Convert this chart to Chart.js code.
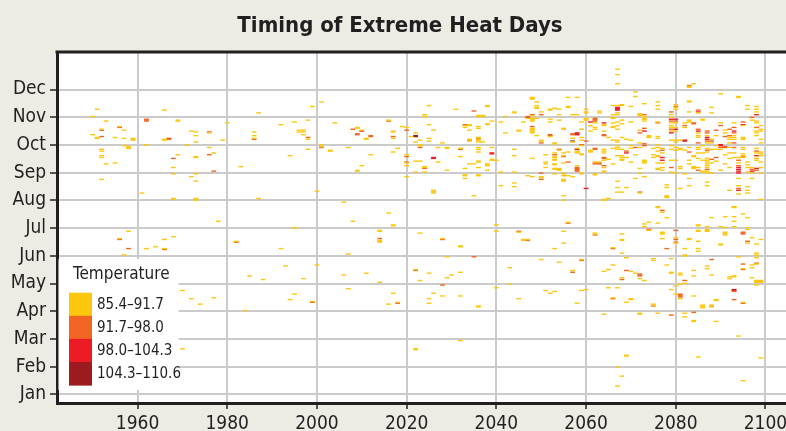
<!DOCTYPE html>
<html>
<head>
<meta charset="utf-8">
<title>Timing of Extreme Heat Days</title>
<script src="https://cdn.jsdelivr.net/npm/chart.js@4.4.0/dist/chart.umd.min.js"></script>
<style>
  html, body { margin: 0; padding: 0; background: #ecebe4; overflow: hidden; }
  #wrap { width: 808px; height: 431px; }
</style>
</head>
<body>
<div id="wrap"><canvas id="heat" width="808" height="431"></canvas></div>
<script>
// [year, day of year] for each extreme heat day, split by temperature band
const band85 = [
  [1951,314],[1950,306],[1953,301],[1952,292],[1950,286],[1951,282],[1951,283],[1956,295],[1957,291],[1955,283],
  [1957,282],[1959,280],[1959,281],[1959,282],[1957,274],[1958,271],[1958,272],[1958,273],[1952,270],[1952,268],
  [1952,263],[1952,261],[1953,254],[1955,255],[1952,237],[1966,313],[1969,301],[1969,302],[1972,290],[1973,289],
  [1973,285],[1973,278],[1976,288],[1979,280],[1980,299],[1986,289],[1986,285],[1986,282],[1987,310],[1966,280],
  [1966,281],[1962,275],[1971,275],[1976,272],[1969,264],[1973,261],[1973,262],[1977,266],[1968,250],[1968,243],
  [1972,240],[1973,243],[1973,235],[1983,251],[1961,222],[1968,215],[1968,216],[1973,214],[1973,215],[1973,216],
  [1987,216],
  [1992,297],[1995,300],[1996,291],[1996,289],[1997,291],[1997,289],[1997,286],[1998,302],[1998,281],[1998,270],
  [1999,317],[2001,322],[2001,275],[2001,273],[2003,268],[2003,269],[2004,299],[2007,272],[2009,293],[2009,294],
  [2010,291],[2011,281],[2011,282],[2009,246],[2009,247],[2010,252],[2012,264],[1994,263],[2000,224],[2006,212],
  [2016,302],[2017,289],[2017,290],[2017,282],[2019,295],[2020,294],[2018,271],[2017,267],[2021,284],[2022,288],
  [2023,280],[2022,278],[2023,275],[2023,274],[2024,308],[2024,306],[2025,318],[2025,297],[2026,291],[2025,282],
  [2025,279],[2028,277],[2027,272],[2029,271],[2029,272],[2020,264],[2020,255],[2020,252],[2020,240],[2022,257],
  [2023,257],[2024,250],[2024,251],[2027,256],[2029,247],[2022,245],[2024,245],[2026,222],[2026,223],[2026,224],
  [2026,225],
  [2031,314],[2033,296],[2034,296],[2034,297],[2033,294],[2034,291],[2036,306],[2036,307],[2037,306],[2037,307],
  [2038,317],[2038,318],[2039,301],[2036,295],[2036,293],[2038,297],[2038,298],[2041,300],[2042,306],[2044,310],
  [2044,311],[2045,290],[2045,291],[2042,288],[2046,300],[2047,304],[2048,325],[2048,326],[2048,327],[2049,322],
  [2049,318],[2049,315],[2049,316],[2048,307],[2048,301],[2048,302],[2048,303],[2048,304],[2050,311],[2049,304],
  [2048,288],[2048,289],[2048,290],[2048,291],[2048,292],[2048,293],[2052,313],[2052,314],[2053,315],[2054,314],
  [2054,308],[2052,303],[2052,300],[2054,302],[2055,292],[2055,293],[2056,316],[2056,317],[2056,327],[2058,327],
  [2057,308],[2058,308],[2060,314],[2060,311],[2060,310],[2060,302],[2060,303],[2060,304],[2059,300],[2059,292],
  [2061,296],[2061,290],[2062,299],[2062,294],[2062,292],[2063,312],[2063,310],[2064,297],[2064,296],[2064,290],
  [2065,283],[2066,318],[2066,308],[2066,305],[2066,299],[2066,294],[2066,295],[2067,358],[2067,352],[2067,342],
  [2067,318],[2067,310],[2067,308],[2067,300],[2067,296],[2067,292],
  [2034,281],[2034,279],[2036,283],[2036,281],[2036,280],[2032,271],[2036,278],[2037,278],[2036,272],[2036,270],
  [2036,267],[2039,272],[2032,262],[2039,258],[2039,259],[2040,258],[2036,256],[2036,257],[2038,252],[2038,253],
  [2038,254],[2034,254],[2035,254],[2036,250],[2038,247],[2033,249],[2033,241],[2033,242],[2033,238],[2036,241],
  [2036,242],[2041,245],[2041,230],[2035,219],[2044,245],[2044,233],[2044,229],[2044,270],[2044,263],[2047,241],
  [2048,260],[2048,240],[2050,279],[2050,280],[2049,285],[2050,239],[2050,240],[2051,264],[2051,256],[2051,254],
  [2051,250],[2052,284],[2053,276],[2053,277],[2053,266],[2053,262],[2053,261],[2053,258],[2053,259],[2053,253],
  [2053,254],[2053,248],[2053,249],[2053,243],[2054,247],[2054,248],[2054,249],[2054,269],[2055,266],[2055,263],
  [2055,255],[2055,243],[2055,244],[2055,241],[2055,235],[2055,236],[2055,237],[2056,267],[2057,282],[2057,278],
  [2056,241],[2057,240],[2058,271],[2058,266],[2058,267],[2058,268],[2058,252],[2059,274],[2059,264],[2059,265],
  [2059,243],[2059,244],[2059,283],[2059,280],[2061,267],[2061,268],[2061,269],[2064,258],[2064,250],[2064,246],
  [2064,245],[2062,242],[2062,243],[2064,270],[2064,268],[2064,266],[2065,259],[2066,254],[2067,270],[2067,263],
  [2067,280],[2067,278],[2067,274],[2067,272],[2067,235],[2067,228],[2067,223],[2055,219],[2055,214],[2064,214],
  [2064,215],[2065,216],[2062,256],[2063,256],
  [2083,339],[2083,338],[2084,342],[2071,333],[2071,328],[2090,331],[2094,327],[2094,328],[2083,322],[2083,323],
  [2068,318],[2068,319],[2073,320],[2076,322],[2076,318],[2076,314],[2070,317],[2080,319],[2080,316],[2080,314],
  [2085,310],[2088,316],[2088,310],[2096,318],[2096,314],[2098,317],[2098,314],[2098,311],[2072,307],[2072,308],
  [2072,309],[2073,306],[2073,304],[2073,303],[2073,301],[2070,300],[2068,302],[2068,298],[2066,304],[2076,300],
  [2079,308],[2079,305],[2079,299],[2079,296],[2079,294],[2079,290],[2080,299],[2080,294],[2080,290],[2082,299],
  [2082,294],[2083,311],[2083,302],[2083,301],[2083,300],[2085,288],[2085,285],[2086,302],[2086,303],[2087,285],
  [2087,277],[2088,281],[2088,277],[2089,285],[2090,299],[2091,291],[2091,288],[2092,283],[2092,281],[2093,299],
  [2093,285],[2093,283],[2093,281],[2095,296],[2095,283],[2095,282],[2095,281],[2097,302],[2098,301],[2098,299],
  [2098,290],[2098,288],[2098,285],[2099,296],[2099,292],[2099,290],[2099,281],[2099,277],
  [2066,280],[2066,271],[2068,283],[2068,270],[2068,263],[2068,261],[2068,259],[2068,258],[2069,281],[2069,261],
  [2070,280],[2070,274],[2070,271],[2070,256],[2071,264],[2071,238],[2072,291],[2072,277],[2072,272],[2072,249],
  [2072,244],[2073,255],[2073,256],[2073,257],[2073,258],[2073,240],[2074,283],[2074,284],[2074,285],[2075,271],
  [2075,264],[2075,261],[2076,284],[2076,282],[2076,275],[2076,272],[2076,268],[2076,262],[2076,263],[2076,255],
  [2076,248],[2076,249],[2077,271],[2077,266],[2077,255],[2077,250],[2077,247],[2078,231],[2078,228],[2078,217],
  [2078,218],[2078,219],[2079,280],[2079,274],[2079,270],[2079,258],[2079,245],[2080,280],[2080,278],[2080,272],
  [2080,269],[2080,258],[2080,244],[2081,280],[2081,271],[2081,270],[2081,251],[2081,249],[2081,227],[2082,269],
  [2082,243],[2083,272],[2083,258],[2083,254],[2083,238],[2083,230],[2084,262],[2084,263],[2084,249],[2084,250],
  [2084,251],[2085,283],[2085,272],[2085,270],[2085,266],[2085,260],[2085,250],[2086,274],[2086,266],[2086,258],
  [2086,245],[2086,246],[2087,271],[2087,267],[2087,260],[2087,258],[2087,256],[2087,254],[2087,252],[2087,250],
  [2087,246],[2087,244],[2087,234],[2087,230],[2088,270],[2088,255],[2088,244],[2089,274],[2089,270],[2089,257],
  [2090,270],[2090,247],[2091,264],[2091,254],[2092,277],[2092,272],[2092,266],[2092,260],[2092,250],[2092,225],
  [2093,266],[2093,261],[2094,261],[2094,255],[2094,238],[2094,230],[2094,221],[2095,272],[2095,270],[2095,265],
  [2095,263],[2095,261],[2096,256],[2096,253],[2096,250],[2096,245],[2096,229],[2096,225],[2096,222],[2097,250],
  [2097,244],[2097,238],[2098,271],[2098,266],[2098,260],[2098,258],[2099,267],[2099,265],[2099,263],[2099,256],
  [2099,250],[2099,244],[2099,215],[2076,207],[2093,207],[2072,222],[2068,223],[2069,228],
  [1978,191],[1958,180],[1956,172],[1957,154],[1962,161],[1964,163],[1966,171],[1966,161],[1968,174],[1982,169],
  [1992,161],[1995,184],[1993,142],[1985,131],[1988,127],[1997,128],[1995,111],[1994,105],[1984,93],[1970,115],
  [1972,106],[1974,100],[1977,107],[1970,51],
  [2016,200],[2008,191],[2017,186],[2017,187],[2014,180],[2014,181],[2014,170],[2014,169],[2014,168],[2023,178],
  [2028,172],[2032,163],[2032,164],[2040,187],[2040,180],[2045,179],[2046,171],[2046,170],[2047,171],[2007,155],
  [2029,152],[2050,149],[2000,143],[2006,132],[2011,134],[2014,124],[2022,138],[2025,134],[2023,126],[2029,129],
  [2030,132],[2032,135],[2043,140],[2040,118],[2043,122],[2051,115],[2052,112],[2007,117],[2017,112],[2026,112],
  [2028,109],[2032,109],[2025,106],[2025,101],[1999,103],[2016,100],[2018,102],[2036,97],[2036,98],[2045,106],
  [2032,60],[2022,50],[2022,51],
  [2056,190],[2055,180],[2053,161],[2055,167],[2062,178],[2062,177],[2068,177],[2068,170],[2068,171],[2066,162],
  [2068,156],[2069,151],[2073,188],[2073,185],[2074,190],[2074,181],[2076,189],[2077,201],[2076,206],[2078,195],
  [2077,177],[2077,178],[2077,179],[2077,172],[2080,173],[2080,167],[2082,161],[2082,153],[2082,154],[2083,171],
  [2083,172],[2085,186],[2085,187],[2085,180],[2085,181],[2085,169],[2085,161],[2085,158],[2087,185],[2087,182],
  [2087,181],[2087,180],[2088,195],[2090,185],[2090,166],[2090,165],[2091,176],[2091,177],[2091,178],[2091,179],
  [2091,196],[2091,184],[2093,206],[2093,207],[2093,196],[2093,191],[2093,185],[2095,199],[2096,195],[2096,182],
  [2096,184],[2096,167],[2097,173],[2099,171],[2098,166],[2054,146],[2059,149],[2057,137],[2064,136],[2065,138],
  [2066,143],[2068,129],[2070,136],[2071,134],[2072,128],[2073,126],[2075,150],[2075,148],[2078,143],[2079,150],
  [2079,134],[2079,135],[2081,134],[2081,132],[2082,123],[2081,122],[2084,137],[2084,131],[2087,142],[2087,139],
  [2088,132],[2092,130],[2092,128],[2093,130],[2093,131],[2094,152],[2095,139],[2097,143],[2097,140],[2097,129],
  [2098,156],[2098,154],[2098,151],[2098,144],[2098,126],[2098,125],[2098,124],[2099,126],[2099,125],[2099,124],
  [2098,121],[2053,114],[2058,101],[2059,115],[2060,116],[2064,89],[2065,118],[2067,118],[2066,107],[2069,102],
  [2070,105],[2070,106],[2072,89],[2072,90],[2075,100],[2075,99],[2076,90],[2079,116],[2080,120],[2080,111],
  [2081,106],[2082,90],[2082,86],[2084,109],[2084,81],[2084,82],[2086,96],[2086,97],[2086,98],[2086,99],
  [2088,99],[2088,97],[2089,104],[2089,105],[2089,81],[2095,102],[2094,65],[2085,42],[2099,41],[2069,43],
  [2069,44],[2067,31],[2068,21],[2067,10],[2095,16]
];
const band92 = [
  [1952,291],[1956,294],[1952,284],[1962,301],[1962,302],[1962,303],[1976,289],[1986,281],[1967,281],[1967,282],
  [1968,260],[1976,264],[1977,246],
  [1998,283],[2001,272],[2008,292],[2009,287],[2009,286],[2012,284],[2012,285],[2016,301],[2017,284],[2020,291],
  [2023,272],[2020,262],[2020,256],[2024,249],
  [2035,312],[2033,297],[2047,306],[2048,308],[2050,308],[2048,295],[2057,287],[2057,286],[2062,301],[2062,302],
  [2062,303],[2062,304],[2064,285],[2064,286],
  [2034,280],[2036,282],[2032,270],[2050,277],[2050,244],[2050,237],[2052,285],[2052,286],[2053,264],[2054,270],
  [2055,262],[2056,256],[2058,246],[2058,247],[2058,248],[2058,249],[2058,250],[2059,275],[2060,279],[2062,270],
  [2062,271],[2062,254],[2062,255],[2063,254],[2063,255],[2064,261],[2064,260],[2064,252],
  [2083,340],[2080,317],[2085,313],[2073,308],[2076,299],[2079,311],[2079,301],[2079,292],[2080,301],[2082,296],
  [2084,298],[2084,299],[2085,292],[2087,290],[2087,288],[2087,279],[2088,279],[2089,291],[2090,296],[2091,284],
  [2092,292],[2092,285],[2093,294],[2093,288],[2095,300],[2097,305],[2098,294],
  [2069,268],[2071,272],[2072,288],[2073,293],[2073,276],[2073,274],[2077,269],[2079,250],[2083,267],[2085,277],
  [2085,247],[2087,269],[2087,248],[2088,259],[2089,261],[2090,272],[2091,272],[2091,273],[2093,277],[2093,272],
  [2094,258],[2094,252],[2094,227],[2095,262],[2097,248],[2098,268],[2098,247],[2072,223],
  [1956,171],[1958,161],[1966,160],[1982,168],
  [2014,172],[2028,171],[2045,180],[2047,170],[2035,152],[2022,137],[2028,121],[1999,102],[2018,101],
  [2056,189],[2062,176],[2066,161],[2074,182],[2077,203],[2080,181],[2080,171],[2080,168],[2078,161],[2095,177],
  [2095,178],[2095,179],[2096,169],[2059,148],[2057,135],[2068,127],[2069,137],[2072,133],[2072,132],[2072,131],
  [2082,126],[2084,91],[2088,149],[2095,144],[2095,138],[2098,145],[2066,106],[2075,98],[2079,88],[2081,108],
  [2081,109],[2081,110],[2081,111],[2088,98],[2093,114],[2093,105],[2095,101]
];
const band98 = [
  [2010,290],[2026,260],[2026,261],
  [2047,305],[2058,286],[2058,287],[2058,288],[2061,300],[2064,299],[2067,313],[2067,314],[2067,315],[2067,316],
  [2039,265],[2039,266],[2058,270],[2060,227],
  [2085,311],[2098,308],[2079,303],[2079,288],[2080,303],[2080,292],[2085,290],[2087,283],[2087,281],[2093,290],
  [2095,297],
  [2069,266],[2073,290],[2077,261],[2077,258],[2082,279],[2082,280],[2090,275],[2090,274],[2094,250],[2094,248],
  [2094,246],[2094,244],[2094,225],[2097,246],[2098,263],[2098,249],
  [2093,115]
];
const band104 = [
  [2022,284],[2022,285],[2057,279],[2093,116]
];

const bandLabels = ['85.4\u201391.7', '91.7\u201398.0', '98.0\u2013104.3', '104.3\u2013110.6'];
const bandColors = ['#fdc70f', '#f26522', '#ed1c24', '#9b1b1f'];
const monthLabels = ['Jan', 'Feb', 'Mar', 'Apr', 'May', 'Jun', 'Jul', 'Aug', 'Sep', 'Oct', 'Nov', 'Dec'];
const yearTicks = [1960, 1980, 2000, 2020, 2040, 2060, 2080, 2100];

const FONT = "'DejaVu Sans Condensed', 'Liberation Sans Narrow', 'Roboto', sans-serif";
// months are spaced evenly on the axis, so a month is 365/12 days
const monthStart = i => 1 + i * 365 / 12;

const bands = [band85, band92, band98, band104];

// white plot background
const plotBackground = {
    id: 'plotBackground',
    beforeDraw(chart) {
        const { ctx, chartArea: a } = chart;
        ctx.save();
        ctx.fillStyle = '#ffffff';
        ctx.fillRect(a.left, a.top, a.right - a.left, a.bottom - a.top);
        ctx.restore();
    }
};

// frame top line + temperature legend in the lower left corner
const frameAndLegend = {
    id: 'frameAndLegend',
    afterDatasetsDraw(chart) {
        const { ctx, chartArea: a } = chart;
        ctx.save();
        ctx.strokeStyle = '#231f20';
        ctx.lineWidth = 3;
        ctx.beginPath();
        ctx.moveTo(a.left - 1.5, a.top);
        ctx.lineTo(a.right, a.top);
        ctx.stroke();

        const x0 = a.left + 1.5;
        const y0 = a.bottom - 144;
        ctx.fillStyle = '#ffffff';
        ctx.fillRect(x0, y0, 120, 131);

        ctx.fillStyle = '#231f20';
        ctx.textBaseline = 'middle';
        ctx.textAlign = 'left';
        ctx.font = '17px ' + FONT;
        ctx.fillText('Temperature', a.left + 16, a.bottom - 128);

        const rowH = 23.1;
        const top = a.bottom - 110.3;
        bandLabels.forEach((lbl, i) => {
            ctx.fillStyle = bandColors[i];
            ctx.fillRect(a.left + 12, top + i * rowH, 23, rowH + 0.5);
            ctx.fillStyle = '#231f20';
            ctx.font = '15px ' + FONT;
            ctx.fillText(lbl, a.left + 40, top + i * rowH + rowH / 2 + 1);
        });
        ctx.restore();
    }
};

new Chart(document.getElementById('heat'), {
    type: 'scatter',
    data: {
        datasets: bands.map((pts, i) => ({
            label: bandLabels[i],
            data: pts.map(p => ({ x: p[0], y: p[1] })),
            pointStyle: 'line',
            radius: 2.4,
            hoverRadius: 2.4,
            borderWidth: 1.4,
            borderColor: bandColors[i],
            backgroundColor: bandColors[i]
        }))
    },
    options: {
        responsive: false,
        animation: false,
        devicePixelRatio: 1,
        layout: { padding: { left: 0, right: 8, top: 0, bottom: 0 } },
        plugins: {
            legend: { display: false },
            tooltip: { enabled: false },
            title: {
                display: true,
                text: 'Timing of Extreme Heat Days',
                color: '#231f20',
                font: { family: FONT, size: 22, weight: 'bold', lineHeight: 1.2 },
                padding: { top: 13, bottom: 12.6 }
            }
        },
        scales: {
            x: {
                type: 'linear',
                min: 1942.05,
                max: 2107.7,
                afterBuildTicks: s => { s.ticks = yearTicks.map(v => ({ value: v })); },
                afterFit: s => { s.height = 28; },
                grid: {
                    color: '#cbcbcb',
                    lineWidth: 2,
                    tickColor: '#231f20',
                    tickWidth: 1.5,
                    tickLength: 6
                },
                border: { display: true, color: '#231f20', width: 3 },
                ticks: {
                    color: '#231f20',
                    padding: 4,
                    maxRotation: 0,
                    font: { family: FONT, size: 19 },
                    callback: v => String(v)
                }
            },
            y: {
                type: 'linear',
                min: -8.5,
                max: 376.8,
                afterBuildTicks: s => { s.ticks = monthLabels.map((m, i) => ({ value: monthStart(i) })); },
                afterFit: s => { s.width = 57; },
                grid: {
                    color: '#cbcbcb',
                    lineWidth: 2,
                    tickColor: '#231f20',
                    tickWidth: 1.5,
                    tickLength: 7
                },
                border: { display: true, color: '#231f20', width: 3 },
                ticks: {
                    color: '#231f20',
                    padding: 4,
                    font: { family: FONT, size: 19 },
                    callback: (v, i) => monthLabels[i]
                }
            }
        }
    },
    plugins: [plotBackground, frameAndLegend]
});
</script>
</body>
</html>
